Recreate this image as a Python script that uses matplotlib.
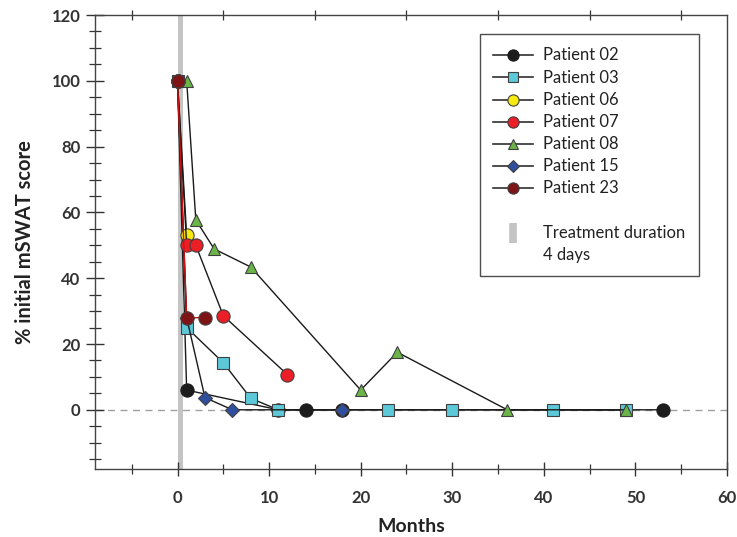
import matplotlib
matplotlib.use("Agg")
import matplotlib.pyplot as plt
from matplotlib.lines import Line2D
from matplotlib.ticker import MultipleLocator, FixedLocator

plt.rcParams['font.family'] = ['Lato', 'DejaVu Sans']

# Data (months, % initial mSWAT score)
p02_x = [0, 1, 11, 14, 18, 53]
p02_y = [100, 6, 0, 0, 0, 0]
p03_x = [0, 1, 5, 8, 11, 23, 30, 41, 49]
p03_y = [100, 25, 14.3, 3.5, 0, 0, 0, 0, 0]
p06_x = [0, 1]
p06_y = [100, 53]
p07_x = [0, 1, 2, 5, 12]
p07_y = [100, 50, 50, 28.6, 10.7]
p08_x = [1, 2, 4, 8, 20, 24, 36, 49]
p08_y = [100, 57.7, 48.9, 43.4, 6, 17.5, 0, 0]
p15_x = [0, 1, 3, 6, 18]
p15_y = [100, 28, 3.7, 0, 0]
p23_x = [0, 1, 3]
p23_y = [100, 28, 28]

labels = ["Patient 02", "Patient 03", "Patient 06", "Patient 07",
          "Patient 08", "Patient 15", "Patient 23"]
treatment_label = ["Treatment duration", "4 days"]

fig = plt.figure(figsize=(7.37, 5.37), dpi=100)
ax = fig.add_axes([0.129, 0.1266, 0.8575, 0.8454])

ax.axvspan(0, 0.65, color='#c4c4c4', zorder=1, lw=0)
ax.axhline(0, color='#a0a0a0', lw=1.0, ls=(0, (5, 4)), zorder=1.5)

series = [
    (p02_x, p02_y, 'o', '#1c1c1c', '#1c1c1c', 9.5, 3),
    (p03_x, p03_y, 's', '#5cc8d8', '#404040', 8.0, 4),
    (p06_x, p06_y, 'o', '#f7ea10', '#404040', 9.5, 6),
    (p07_x, p07_y, 'o', '#ec1f26', '#404040', 9.5, 7),
    (p08_x, p08_y, '^', '#6bb548', '#404040', 9.0, 5),
    (p15_x, p15_y, 'D', '#2f4f9e', '#404040', 7.5, 5.5),
    (p23_x, p23_y, 'o', '#7e1416', '#404040', 9.5, 8),
]
line_colors = ['#1a1a1a', '#1a1a1a', '#1a1a1a', '#1a1a1a', '#1a1a1a', '#1a1a1a', '#d01010']

handles = []
for (xs, ys, m, fc, ec, ms, z), lc, lab in zip(series, line_colors, labels):
    ax.plot(xs, ys, color=lc, lw=1.0, zorder=z, marker=m, markersize=ms,
            markerfacecolor=fc, markeredgecolor=ec, markeredgewidth=0.8)
    handles.append(Line2D([], [], color='#303030', lw=1.2, marker=m, markersize=ms * 0.85,
                          markerfacecolor=fc, markeredgecolor=ec, markeredgewidth=0.8))

blank = Line2D([], [], ls='none')
bar = Line2D([], [], ls='none', marker='|', markersize=15, markeredgewidth=5.5,
             color='#c4c4c4')
blank2 = Line2D([], [], ls='none')
leg = ax.legend(handles + [blank, bar, blank2], labels + [''] + treatment_label,
                loc='upper right', bbox_to_anchor=(0.955, 0.958), borderaxespad=0,
                fontsize=12, handlelength=2.4, handletextpad=0.6, handleheight=0.45,
                labelspacing=0.37, frameon=True, fancybox=False,
                edgecolor='#222222', borderpad=0.8)
leg.get_frame().set_linewidth(1.0)
for t in leg.get_texts():
    t.set_color('#222222')

ax.set_xlim(-9, 60)
ax.set_ylim(-18, 120)
ax.xaxis.set_major_locator(MultipleLocator(10))
ax.xaxis.set_minor_locator(MultipleLocator(5))
ax.yaxis.set_major_locator(FixedLocator([0, 20, 40, 60, 80, 100, 120]))
ax.yaxis.set_minor_locator(FixedLocator(list(range(-15, 120, 5))))

ax.tick_params(axis='x', which='major', direction='inout', length=10, width=1.0,
               labelsize=12, pad=10, colors='#333333', top=False)
ax.tick_params(axis='x', which='minor', direction='inout', length=7, width=0.9,
               top=True, colors='#333333')
ax.tick_params(axis='y', which='major', direction='inout', length=13, width=1.0,
               labelsize=12, pad=4, colors='#333333', right=False)
ax.tick_params(axis='y', which='minor', direction='inout', length=9, width=0.9,
               right=False, colors='#333333')
for lab in ax.get_xticklabels() + ax.get_yticklabels():
    lab.set_fontweight('bold')
    lab.set_color('#333333')

for s in ax.spines.values():
    s.set_color('#444444')
    s.set_linewidth(1.0)

ax.set_xlabel('Months', fontsize=14, fontweight='bold', color='#222222', labelpad=9)
ax.set_ylabel('% initial mSWAT score', fontsize=14.5, fontweight='bold', color='#222222',
              labelpad=12)

fig.savefig('out.png', dpi=100)
